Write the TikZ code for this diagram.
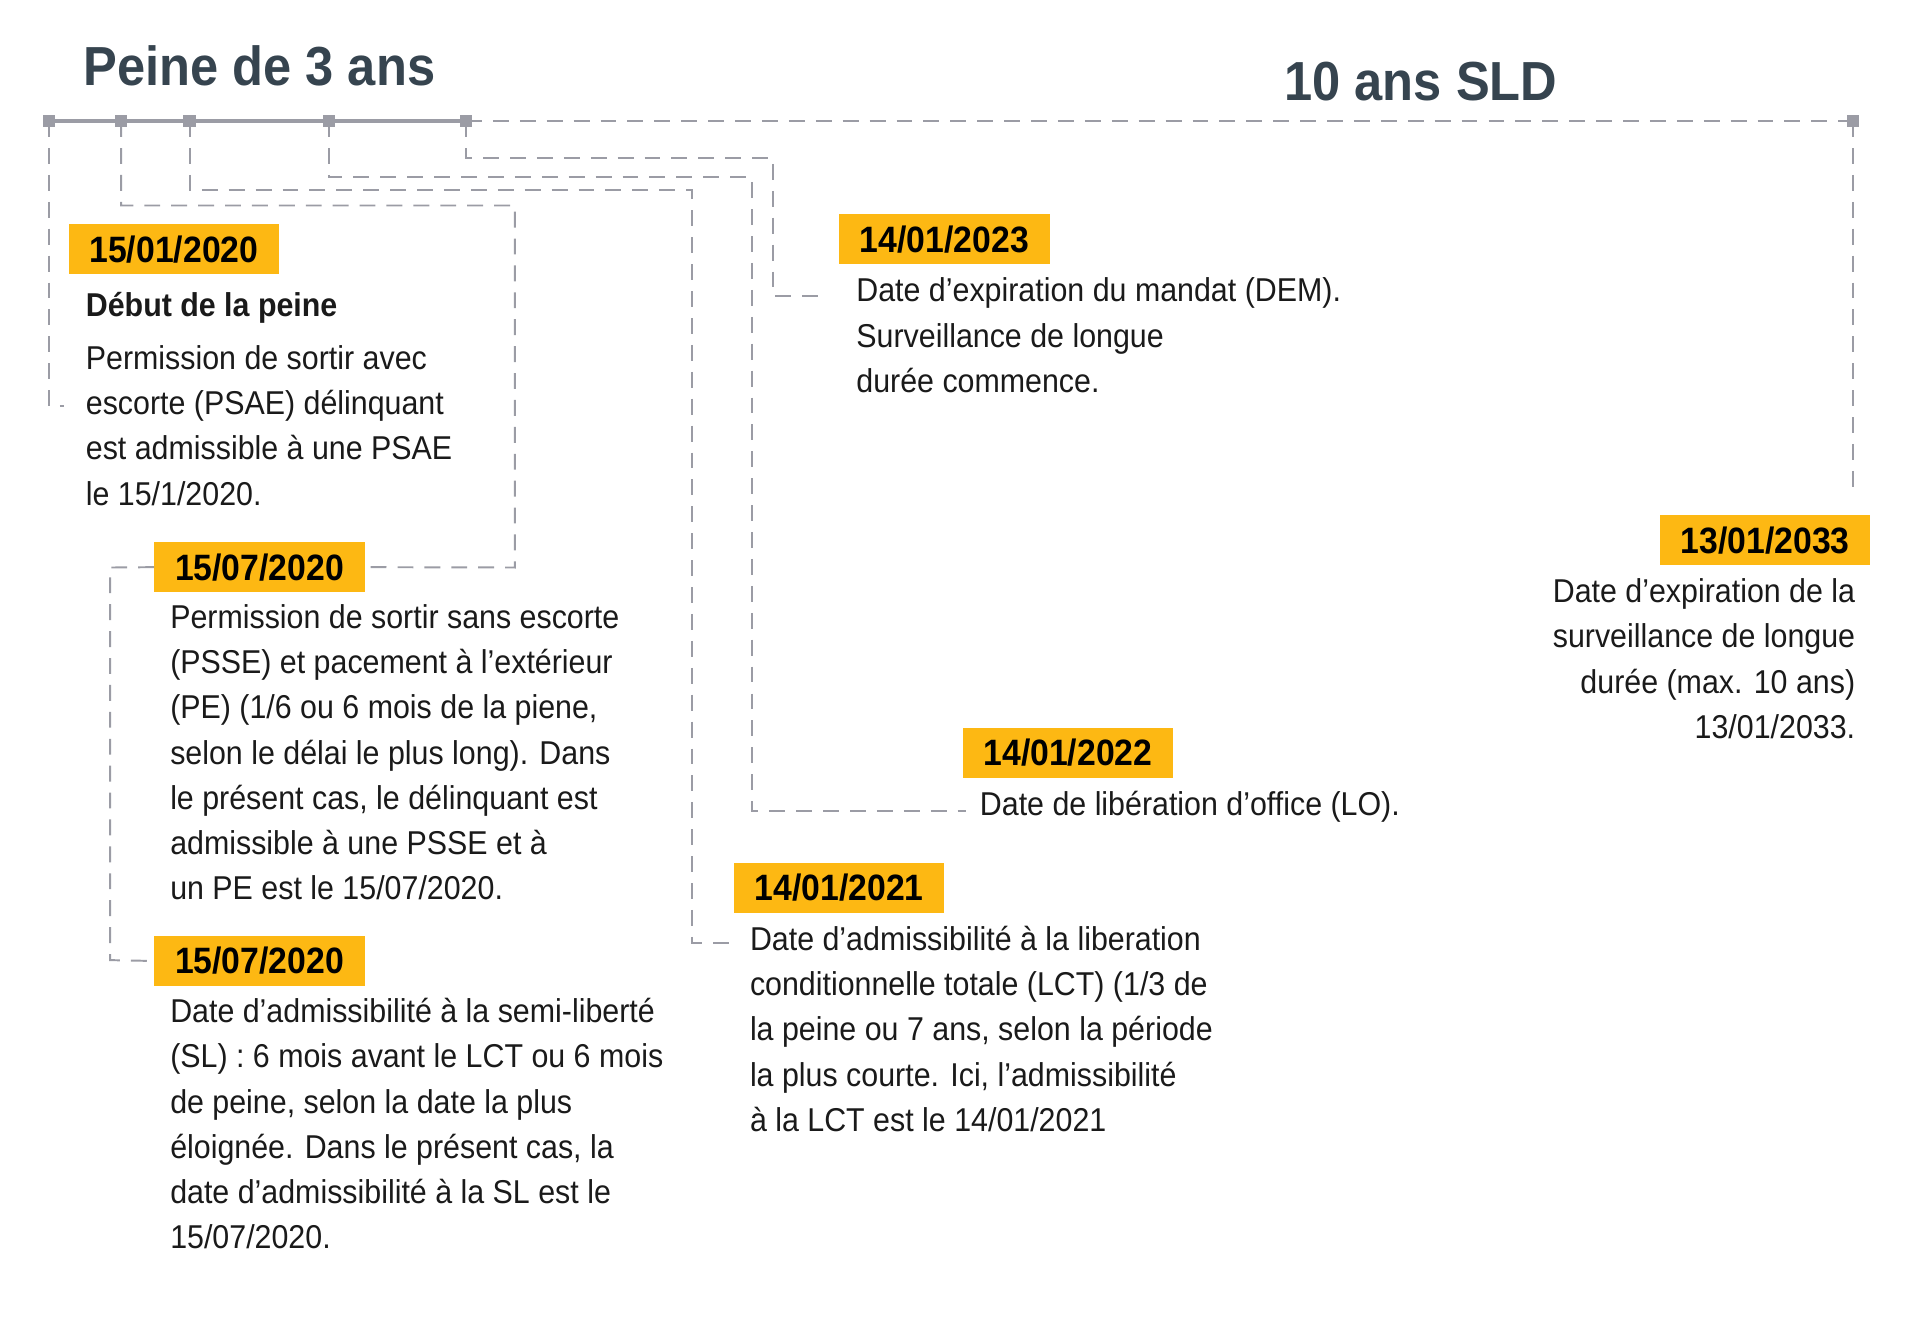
\documentclass[tikz,border=0pt]{standalone}
\usepackage{fontspec}
\setmainfont{Liberation Sans}[FakeStretch=0.92]
\definecolor{dline}{HTML}{9B9CA5}
\definecolor{tit}{HTML}{36444F}
\definecolor{org}{HTML}{FDB813}
\definecolor{txt}{HTML}{1A1A1A}
\begin{document}
\begin{tikzpicture}[x=1pt,y=-1pt,
  dl/.style={draw=dline,line width=1.6pt,dash pattern=on 13pt off 9pt},
  sq/.style={fill=dline,minimum size=10pt,inner sep=0,draw=none},
  date/.style={fill=org,minimum width=172pt,minimum height=41pt,inner sep=0,anchor=north west,font=\fontsize{30}{32}\selectfont\bfseries,text=black},
  body/.style={anchor=north west,inner sep=0,align=left,text=txt,font=\fontsize{27}{37}\selectfont},
  bodyr/.style={anchor=north east,inner sep=0,align=right,text=txt,font=\fontsize{27}{37}\selectfont}]
\useasboundingbox (0,0) rectangle (1560,1080);
\node[anchor=base west,inner sep=0,text=tit,font=\fontsize{45}{47}\selectfont\bfseries] (t1) at (68,70) {Peine de 3 ans};
\node[anchor=base west,inner sep=0,text=tit,font=\fontsize{45}{47}\selectfont\bfseries] (t2) at (1050,82) {10 ans SLD};
% markers
\coordinate (m1) at (40,99); \coordinate (m2) at (99,99); \coordinate (m3) at (155,99);
\coordinate (m4) at (269,99); \coordinate (m5) at (381,99); \coordinate (m6) at (1515,99);
\draw[dline,solid,line width=3pt] (m1) -- (m5);
\draw[dl] (m5) -- (m6);
% connectors
\coordinate (c1) at (40,332); \coordinate (c1e) at (52,332);
\draw[dl] (m1) -- (c1) -- (c1e);
\coordinate (c2a) at (99,168); \coordinate (c2b) at (421,168); \coordinate (c2c) at (421,464);
\coordinate (c3a) at (155,155); \coordinate (c3b) at (566,155); \coordinate (c3c) at (566,771); \coordinate (c3d) at (597,771);
\coordinate (c4a) at (269,145); \coordinate (c4b) at (615,145); \coordinate (c4c) at (615,663); \coordinate (c4d) at (790,663);
\coordinate (c5a) at (381,129); \coordinate (c5b) at (632,129); \coordinate (c5c) at (632,242); \coordinate (c5d) at (672,242);
\coordinate (c6) at (1515,405);
\draw[dl] (m3) -- (c3a) -- (c3b) -- (c3c) -- (c3d);
\draw[dl] (m4) -- (c4a) -- (c4b) -- (c4c) -- (c4d);
\draw[dl] (m5) -- (c5a) -- (c5b) -- (c5c) -- (c5d);
\draw[dl] (m6) -- (c6);
\foreach \m in {m1,m2,m3,m4,m5,m6} \node[sq] at (\m) {};
% dates
\node[date] (d1) at (56,183) {15/01/2020};
\node[date] (d2) at (126,443) {15/07/2020};
\node[date] (d3) at (126,765) {15/07/2020};
\node[date] (d4) at (686,175) {14/01/2023};
\node[date] (d5) at (1357,421) {13/01/2033};
\node[date] (d6) at (787,595) {14/01/2022};
\node[date] (d7) at (600,705) {14/01/2021};
\draw[dl] (m2) -- (c2a) -- (c2b) -- (c2c) -- (d2.east);
\coordinate (c7a) at (90,464); \coordinate (c7b) at (90,785);
\draw[dl] (d2.west) -- (c7a) -- (c7b) -- (d3.west);
% texts
\node[body] (x1) at (70,239) {\textbf{Début de la peine}\\[6pt]Permission de sortir avec\\escorte (PSAE) délinquant\\est admissible à une PSAE\\le 15/1/2020.};
\node[body] (x2) at (139,494) {Permission de sortir sans escorte\\(PSSE) et pacement à l’extérieur\\(PE) (1/6 ou 6 mois de la piene,\\selon le délai le plus long). Dans\\le présent cas, le délinquant est\\admissible à une PSSE et à\\un PE est le 15/07/2020.};
\node[body] (x3) at (139,816) {Date d’admissibilité à la semi-liberté\\(SL) : 6 mois avant le LCT ou 6 mois\\de peine, selon la date la plus\\éloignée. Dans le présent cas, la\\date d’admissibilité à la SL est le\\15/07/2020.};
\node[body] (x4) at (700,227) {Date d’expiration du mandat (DEM).\\Surveillance de longue\\durée commence.};
\node[bodyr] (x5) at (1517,473) {Date d’expiration de la\\surveillance de longue\\durée (max. 10 ans)\\13/01/2033.};
\node[body] (x6) at (801,647) {Date de libération d’office (LO).};
\node[body] (x7) at (613,757) {Date d’admissibilité à la liberation\\conditionnelle totale (LCT) (1/3 de\\la peine ou 7 ans, selon la période\\la plus courte. Ici, l’admissibilité\\à la LCT est le 14/01/2021};
\end{tikzpicture}
\end{document}
